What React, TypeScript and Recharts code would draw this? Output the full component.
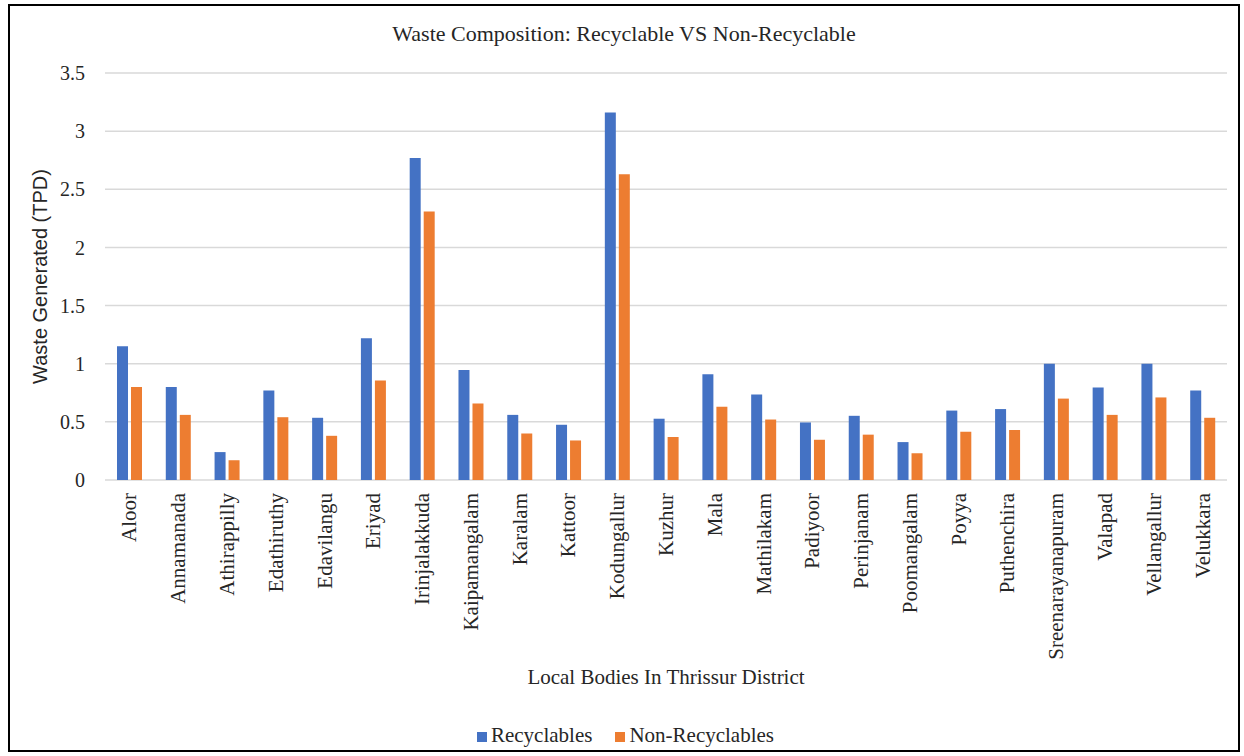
import React from 'react';
import { BarChart, Bar, XAxis, YAxis, CartesianGrid, Legend } from 'recharts';

const localBodies = [
  'Aloor', 'Annamanada', 'Athirappilly', 'Edathiruthy', 'Edavilangu', 'Eriyad',
  'Irinjalakkuda', 'Kaipamangalam', 'Karalam', 'Kattoor', 'Kodungallur', 'Kuzhur',
  'Mala', 'Mathilakam', 'Padiyoor', 'Perinjanam', 'Poomangalam', 'Poyya',
  'Puthenchira', 'Sreenarayanapuram', 'Valapad', 'Vellangallur', 'Velukkara',
];

const recyclables = [
  1.15, 0.8, 0.24, 0.77, 0.535, 1.22,
  2.77, 0.945, 0.56, 0.475, 3.16, 0.527,
  0.91, 0.735, 0.495, 0.552, 0.326, 0.597,
  0.61, 1.0, 0.795, 1.0, 0.77,
];

const nonRecyclables = [
  0.8, 0.56, 0.17, 0.54, 0.38, 0.855,
  2.31, 0.658, 0.4, 0.34, 2.63, 0.37,
  0.63, 0.52, 0.346, 0.39, 0.23, 0.415,
  0.43, 0.7, 0.56, 0.71, 0.535,
];

const yTicks = [0, 0.5, 1, 1.5, 2, 2.5, 3, 3.5];

const seriesOrder = ['Recyclables', 'Non-Recyclables'];

const data = localBodies.map((name, i) => ({
  name,
  recyclables: recyclables[i],
  nonRecyclables: nonRecyclables[i],
}));

const serif = '"Liberation Serif", "Times New Roman", serif';

const CategoryTick = (props: any) => {
  const { x, y, payload } = props;
  return (
    <g transform={`translate(${x},${y + 5})`}>
      <text
        transform="rotate(-90)"
        textAnchor="end"
        dominantBaseline="central"
        fontFamily={serif}
        fontSize={21}
        fill="#262626"
      >
        {payload.value}
      </text>
    </g>
  );
};

export default function App() {
  return (
    <div
      style={{
        position: 'absolute',
        left: 8,
        top: 4,
        width: 1232,
        height: 748,
        border: '2px solid #000',
        boxSizing: 'border-box',
        background: '#fff',
      }}
    >
      <div
        style={{
          position: 'absolute',
          top: 15,
          left: 0,
          width: '100%',
          textAlign: 'center',
          fontFamily: serif,
          fontSize: 22,
          color: '#262626',
        }}
      >
        Waste Composition: Recyclable VS Non-Recyclable
      </div>
      <BarChart
        width={1228}
        height={744}
        data={data}
        margin={{ top: 67, right: 11, left: 0, bottom: 0 }}
        barSize={11}
        barGap={3}
      >
        <CartesianGrid vertical={false} stroke="#d9d9d9" strokeWidth={1.5} />
        <XAxis
          dataKey="name"
          interval={0}
          axisLine={false}
          tickLine={false}
          height={240}
          tick={<CategoryTick />}
          label={{
            value: 'Local Bodies In Thrissur District',
            position: 'insideBottom',
            offset: 36,
            style: { fontFamily: serif, fontSize: 21, fill: '#262626' },
          }}
        />
        <YAxis
          domain={[0, 3.5]}
          ticks={yTicks}
          interval={0}
          axisLine={false}
          tickLine={false}
          width={95}
          tickMargin={14}
          tick={{ fontFamily: serif, fontSize: 20, fill: '#262626' }}
          label={{
            value: 'Waste Generated (TPD)',
            angle: -90,
            position: 'insideLeft',
            offset: 30,
            style: {
              textAnchor: 'middle',
              fontFamily: '"Liberation Sans", Arial, sans-serif',
              fontSize: 20,
              fill: '#262626',
            },
          }}
        />
        <Legend
          verticalAlign="bottom"
          align="center"
          iconType="square"
          iconSize={10}
          itemSorter={(item: any) => seriesOrder.indexOf(item.value)}
          wrapperStyle={{ fontFamily: serif, fontSize: 21, lineHeight: '30px', paddingLeft: 12 }}
          formatter={(value: string) => (
            <span style={{ color: '#262626', marginRight: value === 'Recyclables' ? 13 : 0 }}>
              {value}
            </span>
          )}
        />
        <Bar dataKey="recyclables" name="Recyclables" fill="#4472C4" isAnimationActive={false} />
        <Bar dataKey="nonRecyclables" name="Non-Recyclables" fill="#ED7D31" isAnimationActive={false} />
      </BarChart>
    </div>
  );
}
